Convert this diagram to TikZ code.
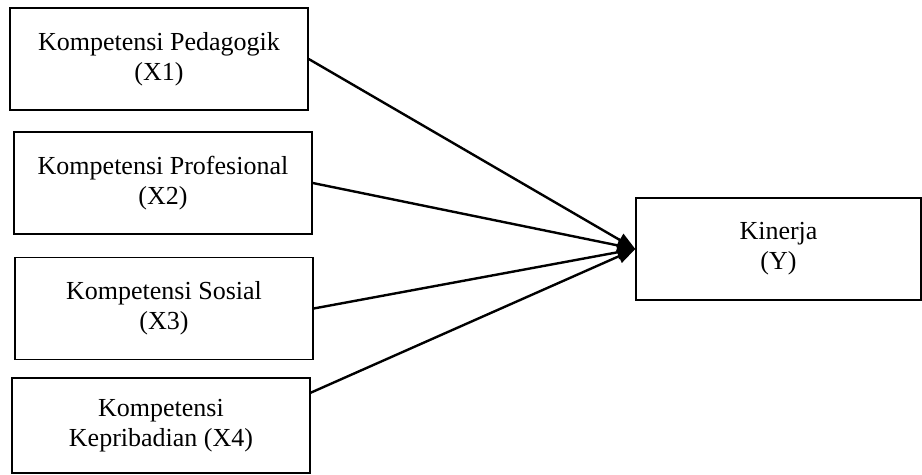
\documentclass[tikz,border=0pt]{standalone}
\usepackage{fontspec}
\setmainfont{Liberation Serif}
\usetikzlibrary{%
  calc,%
  arrows.meta%
}

\begin{document}
\begin{tikzpicture}[x=0.5pt,y=-0.5pt,>={Triangle[length=9pt,width=7pt]},
  var/.style={draw,line width=0.7pt,align=center,inner sep=0pt,
    minimum width=149pt,minimum height=51pt,
    font=\fontsize{13}{15}\selectfont},
  link/.style={draw,->,line width=1.2pt}]
\useasboundingbox (0,0) rectangle (922,475);
\node[var] (x1) at (159,59) {Kompetensi Pedagogik\\(X1)};
\node[var] (x2) at (163,183) {Kompetensi Profesional\\(X2)};
\node[var] (x3) at (164,308.5) {Kompetensi Sosial\\(X3)};
\node[var,minimum height=47.5pt] (x4) at (161,425.5) {Kompetensi\\Kepribadian (X4)};
\node[var,minimum width=142.5pt] (y) at (778.5,249) {Kinerja\\(Y)};
\coordinate (x4out) at ($(x4.north east)!.16!(x4.south east)$);
%
\path (x1.east) edge[link] (y.west)
      (x2.east) edge[link] (y.west)
      (x3.east) edge[link] (y.west)
      (x4out) edge[link] (y.west)
;
\end{tikzpicture}
\end{document}
